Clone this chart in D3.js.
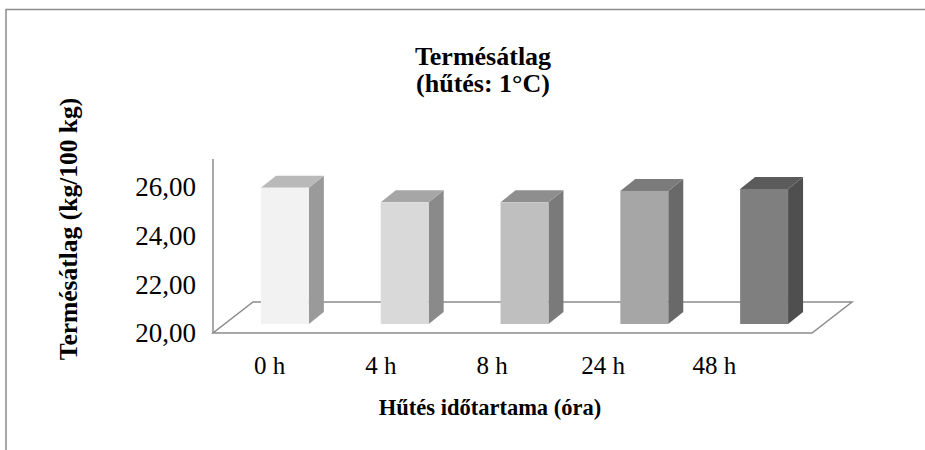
<!DOCTYPE html>
<html>
<head>
<meta charset="utf-8">
<script src="https://cdn.jsdelivr.net/npm/d3@7"></script>
<style>
  body { margin: 0; background: #fff; }
</style>
</head>
<body>
<div id="wrapper"></div>
<script>
// data
const categories = ["0 h", "4 h", "8 h", "24 h", "48 h"];
const yields = [25.6, 25.0, 25.0, 25.47, 25.55];
const yTicks = [20, 22, 24, 26];
const frontColors = ["#f2f2f2", "#d9d9d9", "#bfbfbf", "#a6a6a6", "#7f7f7f"];
const sideColors = ["#9a9a9a", "#8a8a8a", "#7a7a7a", "#696969", "#4f4f4f"];
const topColors = ["#b9b9b9", "#a6a6a6", "#8e8e8e", "#7b7b7b", "#5b5b5b"];

const serif = "'Liberation Serif', 'Times New Roman', Times, 'DejaVu Serif', serif";

function draw() {
    const width = 925, height = 450;

    const svg = d3.select("#wrapper")
        .append("svg")
        .attr("width", width)
        .attr("height", height)
        .attr("font-family", serif);

    // outer frame (cut off on the right and bottom)
    svg.append("path")
        .attr("d", `M6,${height} V9.5 H${width}`)
        .attr("fill", "none")
        .attr("stroke", "#8c8c8c")
        .attr("stroke-width", 1.5);

    // 3d plot geometry
    const floorDepth = { dx: 40, dy: -31 };
    const left = 213, right = 812;

    const yScale = d3.scaleLinear()
        .domain([20, 26])
        .range([333, 187]);

    const xScale = d3.scaleBand()
        .domain(categories)
        .range([left, right]);

    // labels sit on a slightly narrower row than the bars
    const labelScale = d3.scaleBand()
        .domain(categories)
        .range([214, 770]);

    const y0 = yScale(20);

    // floor
    svg.append("path")
        .attr("d", `M${left},${y0} L${right},${y0} L${right + floorDepth.dx},${y0 + floorDepth.dy} L${left + floorDepth.dx},${y0 + floorDepth.dy} Z`)
        .attr("fill", "none")
        .attr("stroke", "#8c8c8c")
        .attr("stroke-width", 1.5);

    // vertical axis line
    svg.append("line")
        .attr("x1", left).attr("x2", left)
        .attr("y1", y0).attr("y2", 159)
        .attr("stroke", "#8c8c8c")
        .attr("stroke-width", 1.5);

    // bars, placed in the middle of the floor depth
    const shift = { dx: 12, dy: -9 };
    const depth = { dx: 15, dy: -12 };
    const barW = xScale.bandwidth() * 0.4;

    const bars = svg.append("g")
        .selectAll("g")
        .data(yields)
        .join("g");

    bars.each(function(v, i) {
        const g = d3.select(this);
        const x1 = xScale(categories[i]) + (xScale.bandwidth() - barW) / 2 + shift.dx;
        const x2 = x1 + barW;
        const yb = y0 + shift.dy;
        const yt = yScale(v) + shift.dy;
        // side
        g.append("path")
            .attr("d", `M${x2},${yb} L${x2 + depth.dx},${yb + depth.dy} L${x2 + depth.dx},${yt + depth.dy} L${x2},${yt} Z`)
            .attr("fill", sideColors[i]);
        // top
        g.append("path")
            .attr("d", `M${x1},${yt} L${x2},${yt} L${x2 + depth.dx},${yt + depth.dy} L${x1 + depth.dx},${yt + depth.dy} Z`)
            .attr("fill", topColors[i]);
        // front
        g.append("rect")
            .attr("x", x1).attr("y", yt)
            .attr("width", barW).attr("height", yb - yt)
            .attr("fill", frontColors[i]);
    });

    // y tick labels
    svg.append("g")
        .selectAll("text")
        .data(yTicks)
        .join("text")
        .attr("x", 196)
        .attr("y", d => yScale(d))
        .attr("dy", "0.35em")
        .attr("text-anchor", "end")
        .style("font-size", "27px")
        .text(d => d3.format(".2f")(d).replace(".", ","));

    // category labels
    svg.append("g")
        .selectAll("text")
        .data(categories)
        .join("text")
        .attr("x", d => labelScale(d) + labelScale.bandwidth() / 2)
        .attr("y", 374)
        .attr("text-anchor", "middle")
        .style("font-size", "25px")
        .text(d => d);

    // titles
    const title = svg.append("text")
        .attr("text-anchor", "middle")
        .style("font-size", "26px")
        .style("font-weight", "bold");
    title.append("tspan").attr("x", 483).attr("y", 65).text("Termésátlag");
    title.append("tspan").attr("x", 483).attr("y", 92).text("(hűtés: 1°C)");

    svg.append("text")
        .attr("x", 490)
        .attr("y", 415)
        .attr("text-anchor", "middle")
        .style("font-size", "22.5px")
        .style("font-weight", "bold")
        .text("Hűtés időtartama (óra)");

    svg.append("text")
        .attr("transform", "translate(77,229) rotate(-90)")
        .attr("text-anchor", "middle")
        .style("font-size", "25.5px")
        .style("font-weight", "bold")
        .text("Termésátlag (kg/100 kg)");
}

draw();
</script>
</body>
</html>
